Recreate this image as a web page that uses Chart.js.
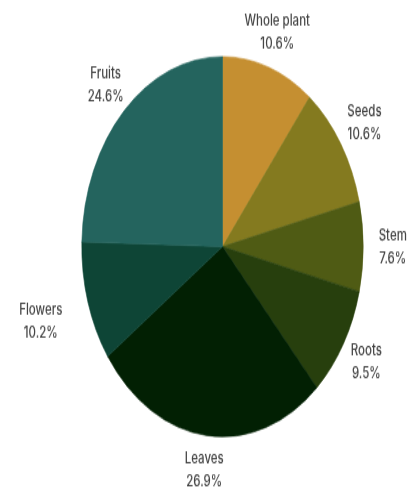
<!DOCTYPE html>
<html>
<head>
<meta charset="utf-8">
<script src="https://cdn.jsdelivr.net/npm/chart.js@4"></script>
<style>
  html, body { margin: 0; padding: 0; background: #ffffff; width: 410px; height: 489px; }
  #c { display: block; width: 410px !important; height: 489px !important; }
</style>
</head>
<body>
<canvas id="c" width="410" height="362" style="width:410px;height:489px"></canvas>
<script>
const categories = ["Whole plant", "Seeds", "Stem", "Roots", "Leaves", "Flowers", "Fruits"];
const shares = [10.6, 10.6, 7.6, 9.5, 26.9, 10.2, 24.6];
const colors = ["#c58f31", "#847a1f", "#4f5b14", "#273f0d", "#022003", "#0e4536", "#24645e"];
const labelRadius = [1.19, 1.2, 1.21, 1.19, 1.18, 1.35, 1.19];

const outsideLabels = {
  id: 'outsideLabels',
  afterDatasetsDraw(chart) {
    const ctx = chart.ctx;
    const meta = chart.getDatasetMeta(0);
    ctx.save();
    ctx.font = '500 11.5px Inter, "Liberation Sans", sans-serif';
    ctx.fillStyle = '#454545';
    ctx.textAlign = 'center';
    ctx.textBaseline = 'middle';
    meta.data.forEach((arc, i) => {
      const p = arc.getProps(['x', 'y', 'startAngle', 'endAngle', 'outerRadius'], true);
      const mid = (p.startAngle + p.endAngle) / 2;
      const d = p.outerRadius * labelRadius[i];
      const x = p.x + Math.cos(mid) * d;
      const y = p.y + Math.sin(mid) * d;
      ctx.fillText(categories[i], x, y - 8.5);
      ctx.fillText(shares[i].toFixed(1) + '%', x, y + 8.5);
    });
    ctx.restore();
  }
};

new Chart(document.getElementById('c'), {
  type: 'pie',
  data: {
    labels: categories,
    datasets: [{
      data: shares,
      backgroundColor: colors,
      borderColor: colors,
      borderWidth: 0.6
    }]
  },
  options: {
    responsive: false,
    animation: false,
    layout: { padding: { top: 41.6, bottom: 38.4, left: 81.5, right: 46.5 } },
    plugins: { legend: { display: false }, tooltip: { enabled: false } }
  },
  plugins: [outsideLabels]
});
</script>
</body>
</html>
